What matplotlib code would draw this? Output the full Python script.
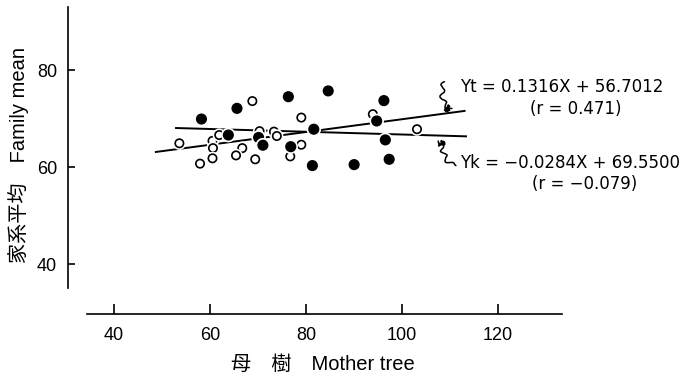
import matplotlib.pyplot as plt
import matplotlib.patheffects as pe
import numpy as np

# filled circles
filled_x = [58.2, 65.6, 63.8, 70.1, 71.0, 76.3, 84.6, 76.8, 81.6, 81.3, 90.0, 96.2, 94.7, 96.5, 97.3]
filled_y = [69.9, 72.1, 66.6, 66.1, 64.5, 74.5, 75.7, 64.2, 67.8, 60.3, 60.5, 73.7, 69.5, 65.6, 61.6]

# open circles
open_x = [68.8, 53.6, 57.9, 60.5, 60.6, 60.5, 61.9, 66.7, 65.4, 69.4, 70.3, 73.3, 73.9, 79.0, 79.0, 76.7, 93.9, 103.1]
open_y = [73.6, 64.9, 60.7, 65.4, 63.9, 61.8, 66.6, 63.9, 62.4, 61.6, 67.4, 67.3, 66.4, 70.2, 64.6, 62.2, 70.9, 67.8]

# regression lines
yt_coef = (0.1316, 56.7012)
yk_coef = (-0.0284, 69.5500)
yt_range = (48.7, 113.0)
yk_range = (52.9, 113.3)

xticks = [40, 60, 80, 100, 120]
yticks = [40, 60, 80]

plt.rcParams['font.family'] = ['Liberation Sans', 'Noto Sans CJK JP']
plt.rcParams['font.size'] = 12

fig = plt.figure(figsize=(6.89, 3.75), dpi=100)
ax = fig.add_axes([68 / 689, 61 / 375, 494 / 689, 307 / 375])
ax.set_xlim(30.4, 133.3)
ax.set_ylim(29.7, 93)

for sp in ['top', 'right']:
    ax.spines[sp].set_visible(False)
ax.spines['left'].set_bounds(35.1, 93)
ax.spines['bottom'].set_bounds(34.4, 133.3)
ax.spines['left'].set_linewidth(1.2)
ax.spines['bottom'].set_linewidth(1.2)

ax.set_xticks(xticks)
ax.set_yticks(yticks)
ax.tick_params(axis='x', direction='in', length=7, width=1.2, pad=9, labelsize=13)
ax.tick_params(axis='y', direction='in', length=5, width=1.2, pad=8, labelsize=13)

for coef, rng in [(yt_coef, yt_range), (yk_coef, yk_range)]:
    xs = np.array(rng)
    ax.plot(xs, coef[0] * xs + coef[1], color='black', lw=1.4, zorder=2)

halo = [pe.withStroke(linewidth=3.5, foreground='white')]
ax.plot(open_x, open_y, 'o', ms=6, mfc='white', mec='black', mew=1.2,
        path_effects=halo, zorder=3)
ax.plot(filled_x, filled_y, 'o', ms=7, mfc='black', mec='black',
        path_effects=halo, zorder=4)

# squiggly arrows pointing at the lines
a1 = ax.annotate('', xy=(110.3, 71.5), xytext=(108.8, 77.6),
                 arrowprops=dict(arrowstyle='-|>', color='black', lw=1.1,
                                 mutation_scale=9, shrinkA=0, shrinkB=0,
                                 connectionstyle='arc3,rad=0.35'))
a1.arrow_patch.set_sketch_params(2.5, 10, 1.5)
a2 = ax.annotate('', xy=(107.9, 65.8), xytext=(111.2, 60.3),
                 arrowprops=dict(arrowstyle='-|>', color='black', lw=1.1,
                                 mutation_scale=9, shrinkA=0, shrinkB=0,
                                 connectionstyle='angle3,angleA=0,angleB=100'))
a2.arrow_patch.set_sketch_params(2.5, 10, 1.5)

tfont = dict(fontsize=12, family=['DejaVu Sans'])
ax.text(112.1, 76.5, 'Yt = 0.1316X + 56.7012', va='center', ha='left', **tfont)
ax.text(136.2, 72.0, '(r = 0.471)', va='center', ha='center', **tfont)
ax.text(112.1, 60.8, 'Yk = −0.0284X + 69.5500', va='center', ha='left', **tfont)
ax.text(138.1, 56.5, '(r = −0.079)', va='center', ha='center', **tfont)

fig.text(19 / 689, 1 - 155 / 375, '家系平均　Family mean', rotation=90,
         ha='center', va='center', fontsize=14.5)
fig.text(323 / 689, 1 - 364 / 375, '母　樹　Mother tree', ha='center',
         va='center', fontsize=14.5)

fig.savefig('out.png', dpi=100)
